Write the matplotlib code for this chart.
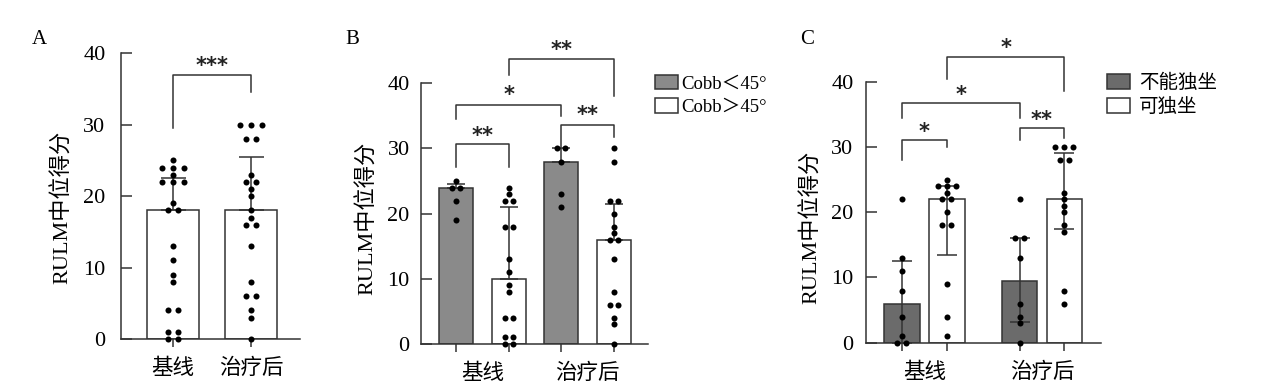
import numpy as np
import matplotlib
matplotlib.use("Agg")
import matplotlib.pyplot as plt
from matplotlib.patches import Patch
from matplotlib import transforms

plt.rcParams['font.family'] = ['Liberation Serif', 'Noto Sans CJK SC']

################ DATA ########################
groups = ['基线', '治疗后']
ylab = 'RULM中位得分'

# A: all patients
a_base = [25, 24, 24, 24, 23, 22, 22, 22, 19, 18, 18, 13, 11, 9, 8, 4, 4, 1, 1, 0, 0]
a_post = [30, 30, 30, 28, 28, 23, 22, 22, 21, 20, 18, 17, 16, 16, 13, 8, 6, 6, 4, 3, 0]
a_median = [18, 18]
a_upper = [22.5, 25.5]

# B: by Cobb angle
b_labels = ['Cobb＜45°', 'Cobb＞45°']
b_lt_base = [25, 24, 24, 22, 19]
b_gt_base = [24, 23, 22, 22, 18, 18, 13, 11, 9, 8, 4, 4, 1, 1, 0, 0]
b_lt_post = [30, 30, 28, 23, 21]
b_gt_post = [30, 28, 22, 22, 20, 18, 17, 16, 16, 13, 8, 6, 6, 4, 3, 0]
b_median = [24, 10, 28, 16]
b_upper = [24.5, 21, 30, 21.5]

# C: by sitting ability
c_labels = ['不能独坐', '可独坐']
c_no_base = [22, 13, 11, 8, 4, 1, 0, 0]
c_yes_base = [25, 24, 24, 24, 23, 22, 22, 20, 18, 18, 9, 4, 1]
c_no_post = [22, 16, 16, 13, 6, 4, 3, 0]
c_yes_post = [30, 30, 30, 28, 28, 23, 22, 21, 20, 18, 17, 8, 6]
c_median = [6, 22, 9.5, 22]
c_lower = [0, 13.5, 3.2, 17.5]
c_upper = [12.5, 24, 16, 29]
##############################################

fig = plt.figure(figsize=(12.68, 3.88), dpi=100)
FS = 16          # tick labels / axis labels
FSX = 15.5       # category labels
EDGE = '#333333'


def px_ax(l, r, top, bot):
    # axes box from pixel edges of the reference
    return fig.add_axes([l / 1268, (388 - bot) / 388, (r - l) / 1268, (bot - top) / 388])


def swarm(ax, x, vals, step):
    vals = np.array(vals, dtype=float)
    xs = np.zeros(len(vals))
    for v in np.unique(vals):
        idx = np.where(vals == v)[0]
        xs[idx] = x + (np.arange(len(idx)) - (len(idx) - 1) / 2) * step
    ax.scatter(xs, vals, s=19, color='black', zorder=4, clip_on=False, linewidths=0)


def style(ax, xlim, ypad, ticks):
    ax.set_xlim(*xlim)
    ax.set_ylim(0, 40)
    ax.set_yticks([0, 10, 20, 30, 40])
    for s in ['top', 'right']:
        ax.spines[s].set_visible(False)
    for s in ['left', 'bottom']:
        ax.spines[s].set_linewidth(1.1)
        ax.spines[s].set_color(EDGE)
    ax.xaxis.remove_overlapping_locs = False
    ax.set_xticks(ticks)
    ax.set_xticks([0, 1], minor=True)
    ax.set_xticklabels(groups, minor=True)
    ax.tick_params(axis='y', direction='in', length=8, width=1.1, color=EDGE,
                   labelsize=FS, pad=ypad)
    ax.tick_params(axis='x', which='major', direction='out', length=6, width=1.1,
                   color=EDGE, labelbottom=False)
    ax.tick_params(axis='x', which='minor', length=0, labelsize=FSX, pad=14)


def bracket(ax, x1, x2, yl, yt, yr, txt, ys):
    ax.plot([x1, x1, x2, x2], [yl, yt, yt, yr], color=EDGE, lw=1.1, clip_on=False)
    tr = transforms.offset_copy(ax.transData, fig=fig, y=-0.55 * 15, units='points')
    ax.text((x1 + x2) / 2, ys, txt, transform=tr, ha='center', va='baseline',
            fontsize=15, fontweight='bold', family='DejaVu Sans', color='#222222')


def panel_letter(x, y, s):
    fig.text(x / 1268, 1 - y / 388, s, fontsize=15, ha='left', va='center')


#### A
axA = px_ax(120.7, 300, 53.3, 339)
pos = np.array([0, 1])
axA.bar(pos, a_median, width=0.658, color='white', edgecolor=EDGE, linewidth=1.1, zorder=2)
axA.errorbar(pos, a_median, yerr=[[0, 0], np.array(a_upper) - np.array(a_median)],
             fmt='none', ecolor=EDGE, elinewidth=1.1, capsize=9, capthick=1.1, zorder=3)
swarm(axA, 0, a_base, 0.137)
swarm(axA, 1, a_post, 0.137)
style(axA, (-0.67, 1.63), 11, pos)
bracket(axA, 0, 1, 29.5, 37.0, 34.6, '***', 39.0)
axA.text(-0.327, 0.459, ylab, transform=axA.transAxes, rotation=90, ha='center',
         va='center', fontsize=FS)
panel_letter(32, 39, 'A')

#### B
axB = px_ax(420.7, 648, 83.3, 344)
off = 0.25
bpos = np.array([-off, off, 1 - off, 1 + off])
bcol = ['#8a8a8a', 'white', '#8a8a8a', 'white']
axB.bar(bpos, b_median, width=0.324, color=bcol, edgecolor=EDGE, linewidth=1.1, zorder=2)
axB.errorbar(bpos, b_median, yerr=[np.zeros(4), np.array(b_upper) - np.array(b_median)],
             fmt='none', ecolor=EDGE, elinewidth=1.1, capsize=6.5, capthick=1.1, zorder=3)
for x, v in zip(bpos, [b_lt_base, b_gt_base, b_lt_post, b_gt_post]):
    swarm(axB, x, v, 0.079)
style(axB, (-0.589, 1.576), 8, bpos)
bracket(axB, -off, off, 27.2, 30.7, 27.2, '**', 32.8)
bracket(axB, -off, 1 - off, 34.5, 36.6, 35.0, '*', 39.0)
bracket(axB, 1 - off, 1 + off, 30.3, 33.6, 31.8, '**', 35.9)
bracket(axB, off, 1 + off, 41.3, 43.7, 38.1, '**', 46.0)
axB.text(-0.236, 0.483, ylab, transform=axB.transAxes, rotation=90, ha='center',
         va='center', fontsize=FS)
hB = [Patch(facecolor='#8a8a8a', edgecolor=EDGE, linewidth=1.1, label=b_labels[0]),
      Patch(facecolor='white', edgecolor=EDGE, linewidth=1.1, label=b_labels[1])]
fig.legend(handles=hB, loc='upper left', bbox_to_anchor=(655 / 1268, 1 - 75 / 388),
           frameon=False, fontsize=13.5, handlelength=1.2, handleheight=0.8,
           handletextpad=0.2, labelspacing=0.3, borderpad=0, borderaxespad=0)
panel_letter(345, 39, 'B')

#### C
axC = px_ax(866, 1100.7, 81.7, 342.7)
off = 0.191
cpos = np.array([-off, off, 1 - off, 1 + off])
ccol = ['#6b6b6b', 'white', '#6b6b6b', 'white']
axC.bar(cpos, c_median, width=0.303, color=ccol, edgecolor=EDGE, linewidth=1.1, zorder=2)
axC.errorbar(cpos, c_median,
             yerr=[np.array(c_median) - np.array(c_lower), np.array(c_upper) - np.array(c_median)],
             fmt='none', ecolor=EDGE, elinewidth=1.1, capsize=7, capthick=1.1, zorder=3)
for x, v in zip(cpos, [c_no_base, c_yes_base, c_no_post, c_yes_post]):
    swarm(axC, x, v, 0.0765)
style(axC, (-0.497, 1.499), 9, cpos)
bracket(axC, -off, off, 28.0, 31.1, 30.0, '*', 33.1)
bracket(axC, -off, 1 - off, 34.5, 36.7, 34.4, '*', 38.8)
bracket(axC, 1 - off, 1 + off, 31.1, 32.9, 31.3, '**', 34.9)
bracket(axC, off, 1 + off, 40.4, 43.8, 38.5, '*', 46.0)
axC.text(-0.23, 0.443, ylab, transform=axC.transAxes, rotation=90, ha='center',
         va='center', fontsize=FS)
hC = [Patch(facecolor='#6b6b6b', edgecolor=EDGE, linewidth=1.1, label=c_labels[0]),
      Patch(facecolor='white', edgecolor=EDGE, linewidth=1.1, label=c_labels[1])]
fig.legend(handles=hC, loc='upper left', bbox_to_anchor=(1107 / 1268, 1 - 74 / 388),
           frameon=False, fontsize=14, handlelength=1.2, handleheight=0.8,
           handletextpad=0.45, labelspacing=0.3, borderpad=0, borderaxespad=0)
panel_letter(800, 39, 'C')

fig.savefig('out.png', dpi=100)
